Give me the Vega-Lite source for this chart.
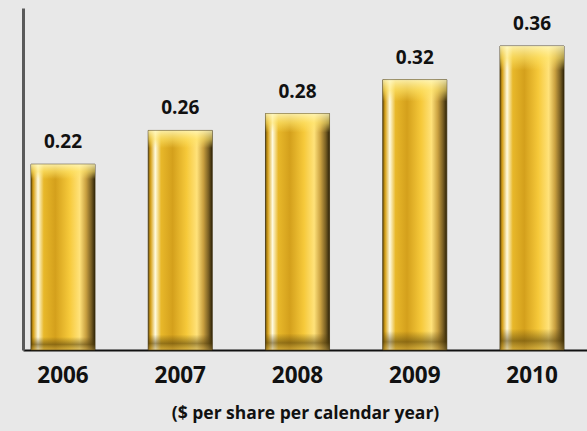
{
  "$schema": "https://vega.github.io/schema/vega-lite/v6.json",
  "width": 564,
  "height": 342,
  "autosize": "none",
  "padding": {"left": 23, "top": 8, "right": 0, "bottom": 81},
  "background": "#e8e8e8",
  "data": {"values": [
    {"year": "2006", "dividend": 0.22},
    {"year": "2007", "dividend": 0.26},
    {"year": "2008", "dividend": 0.28},
    {"year": "2009", "dividend": 0.32},
    {"year": "2010", "dividend": 0.36}
  ]},
  "config": {"view": {"stroke": null}, "font": "Open Sans"},
  "encoding": {
    "x": {
      "field": "year", "type": "nominal", "sort": null,
      "scale": {"paddingInner": 0.454, "paddingOuter": 0.132, "align": 0.258},
      "axis": {
        "title": "($ per share per calendar year)",
        "titleFont": "Open Sans", "titleFontWeight": "bold", "titleFontSize": 17.5, "titleColor": "#111111",
        "titlePadding": 18,
        "labelAngle": 0, "labelFont": "Open Sans", "labelFontWeight": "bold", "labelFontSize": 22.5, "labelColor": "#111111",
        "labelPadding": 14,
        "ticks": false, "domainColor": "#111111", "domainWidth": 2, "grid": false
      }
    },
    "y": {
      "field": "dividend", "type": "quantitative",
      "scale": {"domain": [0, 0.405], "nice": false},
      "axis": {"title": null, "labels": false, "ticks": false, "grid": false, "domainColor": "#5a5a5a", "domainWidth": 3}
    }
  },
  "layer": [
    {
      "mark": {
        "type": "bar",
        "stroke": "#3d2f0a", "strokeWidth": 0.8,
        "color": {
          "gradient": "linear", "x1": 0, "x2": 1, "y1": 0, "y2": 0,
          "stops": [
            {"offset": 0, "color": "#7a5a08"},
            {"offset": 0.04, "color": "#d9a520"},
            {"offset": 0.11, "color": "#fffbe0"},
            {"offset": 0.2, "color": "#e8b82a"},
            {"offset": 0.38, "color": "#d4a01c"},
            {"offset": 0.6, "color": "#f6c93a"},
            {"offset": 0.76, "color": "#ffe27a"},
            {"offset": 0.86, "color": "#c9a040"},
            {"offset": 0.94, "color": "#7a6024"},
            {"offset": 1, "color": "#2e2308"}
          ]
        }
      }
    },
    {
      "mark": {
        "type": "bar",
        "color": {
          "gradient": "linear", "x1": 0, "x2": 0, "y1": 0, "y2": 1,
          "stops": [
            {"offset": 0, "color": "rgba(255,248,190,0.85)"},
            {"offset": 0.04, "color": "rgba(255,230,110,0.6)"},
            {"offset": 0.08, "color": "rgba(255,230,110,0)"},
            {"offset": 0.93, "color": "rgba(80,60,10,0)"},
            {"offset": 0.97, "color": "rgba(80,60,10,0.55)"},
            {"offset": 1, "color": "rgba(180,150,70,0.4)"}
          ]
        }
      }
    },
    {
      "mark": {"type": "text", "font": "Open Sans", "fontWeight": "bold", "fontSize": 19, "color": "#111111", "baseline": "alphabetic", "dy": -16},
      "encoding": {"text": {"field": "dividend", "type": "quantitative", "format": ".2f"}}
    }
  ]
}
